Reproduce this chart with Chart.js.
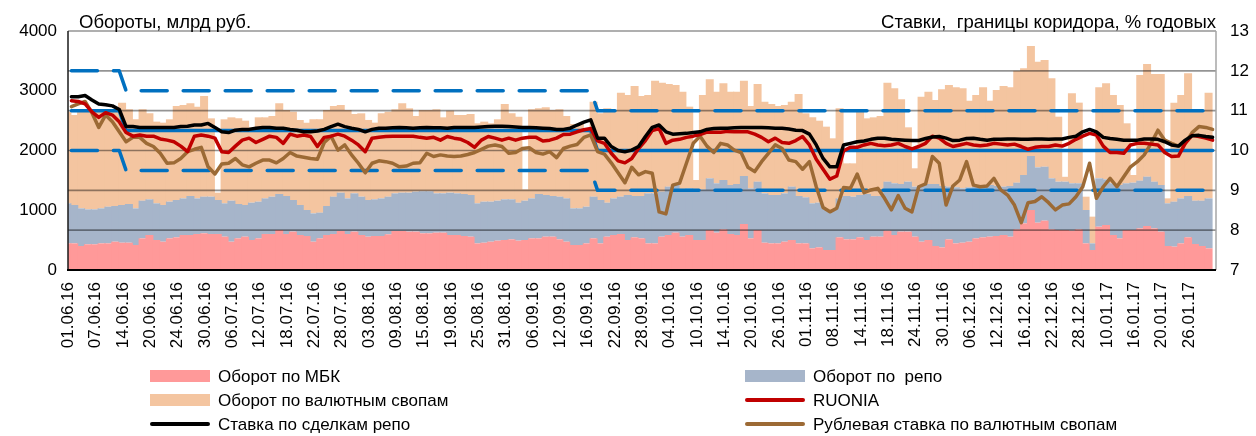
<!DOCTYPE html>
<html>
<head>
<meta charset="utf-8">
<script src="https://cdn.jsdelivr.net/npm/chart.js@4.4.1/dist/chart.umd.min.js"></script>
<style>
  html, body { margin: 0; padding: 0; background: #fff; }
</style>
</head>
<body>
<canvas id="turnover" width="1256" height="436"></canvas>
<script>
// tick labels: every 4th business day, 01.06.16 - 31.01.17 (168 days)
const tickLabels = ['01.06.16', '07.06.16', '14.06.16', '20.06.16', '24.06.16', '30.06.16', '06.07.16', '12.07.16',
  '18.07.16', '22.07.16', '28.07.16', '03.08.16', '09.08.16', '15.08.16', '19.08.16', '25.08.16', '31.08.16',
  '06.09.16', '12.09.16', '16.09.16', '22.09.16', '28.09.16', '04.10.16', '10.10.16', '14.10.16', '20.10.16',
  '26.10.16', '01.11.16', '08.11.16', '14.11.16', '18.11.16', '24.11.16', '30.11.16', '06.12.16', '12.12.16',
  '16.12.16', '22.12.16', '28.12.16', '10.01.17', '16.01.17', '20.01.17', '26.01.17'];

// оборот по МБК, млрд руб.
const mbk = [446, 446, 402, 430, 430, 446, 446, 474, 457, 457, 418, 530, 586, 502, 474, 530, 547, 586, 586, 603,
  614, 603, 603, 558, 474, 530, 558, 502, 530, 603, 603, 669, 603, 642, 586, 569, 474, 530, 586, 603,
  653, 603, 642, 586, 558, 569, 569, 597, 653, 653, 642, 642, 614, 614, 625, 625,
  586, 586, 569, 558, 446, 457, 474, 491, 502, 513, 491, 502, 530, 530, 558, 558, 513, 474, 418, 418,
  446, 530, 446, 558, 586, 603, 502, 547, 530, 446, 446, 558, 586, 625, 558, 586, 502, 502, 669, 625,
  681, 603, 586, 770, 530, 669, 457, 446, 446, 474, 502, 446, 446, 363, 379, 335, 335,
  547, 513, 513, 547, 502, 558, 558, 658, 586, 642, 642, 558, 474, 502, 402, 379, 513, 446, 457, 474,
  530, 547, 558, 569, 586, 558, 681, 781, 1004, 792, 826, 681, 669, 669, 658, 681, 446, 335, 725, 753,
  586, 530, 669, 669, 697, 736, 697, 642, 402, 391, 446, 547, 435, 402, 363];

// оборот по репо
const repo = [670, 642, 630, 585, 585, 586, 614, 597, 631, 648, 614, 630, 597, 614, 614, 614, 625, 613, 653, 596,
  613, 624, 569, 558, 686, 575, 530, 625, 614, 596, 624, 603, 636, 530, 502, 435, 474, 430, 485, 624,
  641, 596, 641, 641, 614, 614, 630, 630, 630, 641, 652, 669, 703, 703, 658, 658,
  708, 697, 703, 697, 670, 687, 670, 669, 681, 670, 636, 658, 669, 742, 697, 681, 714, 725, 614, 614,
  614, 697, 726, 569, 613, 624, 753, 692, 709, 837, 837, 753, 809, 798, 792, 781, 848, 848, 865, 826,
  825, 820, 853, 803, 837, 809, 826, 809, 809, 809, 893, 793, 770, 753, 748, 669, 669,
  652, 726, 714, 708, 770, 681, 681, 820, 865, 797, 836, 837, 949, 937, 1037, 1027, 882, 938, 910, 910,
  865, 820, 865, 837, 809, 848, 781, 809, 904, 926, 903, 853, 809, 809, 793, 770, 558, 111, 809, 764,
  865, 893, 782, 793, 798, 826, 781, 781, 714, 753, 753, 692, 725, 758, 836];

// оборот по валютным свопам
const swaps = [1534, 1506, 1618, 1663, 1663, 1646, 1618, 1607, 1713, 1584, 1490, 1529, 1439, 1367, 1378, 1378, 1573, 1563, 1551, 1535,
  1685, 1311, 122, 1406, 1395, 1433, 1411, 1261, 1411, 1356, 1350, 1518, 1439, 1478, 1423, 1462, 1574, 1562, 1607, 1518,
  1468, 1479, 1328, 1395, 1339, 1283, 1423, 1423, 1406, 1496, 1412, 1266, 1361, 1361, 1406, 1272,
  1373, 1311, 1322, 1356, 1339, 1339, 1311, 1362, 1595, 1439, 1439, 190, 1490, 1434, 1468, 1439, 1462, 1378, 1412, 1412,
  1311, 1590, 1450, 1579, 1479, 1741, 1674, 1841, 1673, 1646, 1886, 1824, 1718, 1673, 1635, 1367, 156, 1579, 1657, 1534,
  1618, 1562, 1546, 1596, 1378, 1635, 1534, 1523, 1490, 1479, 1422, 1707, 1406, 1439, 1372, 1395, 1200,
  1507, 546, 558, 1423, 1266, 1316, 1338, 1657, 1590, 1417, 910, 307, 1478, 1546, 1406, 1618, 1701, 1673, 1674, 1450,
  1534, 1690, 1411, 1607, 1685, 1651, 1874, 1785, 1841, 1769, 1786, 1674, 1088, 82, 1506, 1350, 223, 447, 1523, 1607,
  1478, 1339, 1004, 128, 1769, 1886, 1803, 1858, 83, 1657, 1730, 2053, 1518, 1518, 1769];

// RUONIA, % годовых
const ruonia = [11.25, 11.23, 11.17, 10.97, 10.83, 10.95, 10.89, 10.72, 10.45, 10.36, 10.39, 10.36, 10.36, 10.29, 10.26, 10.22, 10.11, 9.97, 10.36, 10.39,
  10.36, 10.31, 9.97, 9.95, 10.11, 10.26, 10.31, 10.20, 10.28, 10.36, 10.33, 10.18, 10.41, 10.36, 10.39, 10.35, 10.10, 10.33, 10.36, 10.41,
  10.36, 10.26, 10.14, 9.97, 10.31, 10.33, 10.35, 10.36, 10.36, 10.36, 10.36, 10.33, 10.31, 10.33, 10.26, 10.35,
  10.31, 10.28, 10.20, 10.08, 10.26, 10.35, 10.31, 10.26, 10.31, 10.26, 10.31, 10.33, 10.33, 10.24, 10.26, 10.31, 10.40, 10.41, 10.47, 10.52,
  10.55, 10.24, 10.18, 9.93, 9.74, 9.69, 9.80, 10.05, 10.25, 10.50, 10.55, 10.18, 10.26, 10.28, 10.33, 10.36, 10.40, 10.46, 10.46, 10.46,
  10.48, 10.47, 10.47, 10.47, 10.41, 10.33, 10.22, 10.31, 10.20, 10.18, 10.25, 10.35, 10.14, 9.78, 9.53, 9.28, 9.36,
  9.99, 10.08, 10.08, 10.14, 10.18, 10.14, 10.12, 10.14, 10.18, 10.10, 10.04, 10.10, 10.18, 10.36, 10.31, 10.18, 10.10, 10.14, 10.18, 10.14,
  10.12, 10.14, 10.18, 10.16, 10.14, 10.16, 10.10, 10.03, 10.08, 10.10, 10.10, 10.14, 10.11, 10.18, 10.28, 10.36, 10.43, 10.39, 10.11, 9.95,
  9.95, 9.93, 10.14, 10.18, 10.18, 10.16, 10.14, 9.95, 9.85, 9.86, 10.18, 10.38, 10.35, 10.31, 10.26];

// ставка по сделкам репо
const repoRate = [11.35, 11.35, 11.38, 11.27, 11.17, 11.15, 11.12, 11.03, 10.60, 10.60, 10.58, 10.58, 10.58, 10.58, 10.58, 10.58, 10.60, 10.61, 10.64, 10.64,
  10.68, 10.58, 10.47, 10.45, 10.51, 10.53, 10.53, 10.56, 10.58, 10.58, 10.56, 10.56, 10.53, 10.51, 10.47, 10.47, 10.49, 10.53, 10.60, 10.66,
  10.60, 10.56, 10.53, 10.47, 10.53, 10.56, 10.56, 10.57, 10.58, 10.57, 10.56, 10.57, 10.58, 10.57, 10.57, 10.56,
  10.58, 10.58, 10.58, 10.58, 10.59, 10.60, 10.61, 10.61, 10.60, 10.59, 10.58, 10.58, 10.57, 10.56, 10.55, 10.53, 10.53, 10.56, 10.64, 10.71,
  10.77, 10.31, 10.31, 10.10, 10.00, 9.97, 10.01, 10.10, 10.35, 10.58, 10.64, 10.47, 10.41, 10.42, 10.43, 10.45, 10.47, 10.53, 10.55, 10.56,
  10.56, 10.57, 10.58, 10.58, 10.58, 10.58, 10.57, 10.56, 10.56, 10.54, 10.51, 10.50, 10.41, 10.14, 9.80, 9.59, 9.59,
  10.14, 10.18, 10.22, 10.24, 10.28, 10.31, 10.31, 10.28, 10.27, 10.26, 10.25, 10.25, 10.30, 10.34, 10.35, 10.31, 10.25, 10.26, 10.30, 10.31,
  10.28, 10.26, 10.28, 10.28, 10.29, 10.29, 10.28, 10.28, 10.29, 10.29, 10.28, 10.29, 10.29, 10.33, 10.36, 10.47, 10.53, 10.47, 10.33, 10.30,
  10.28, 10.26, 10.26, 10.26, 10.29, 10.29, 10.28, 10.22, 10.14, 10.11, 10.26, 10.37, 10.38, 10.35, 10.33];

// рублевая ставка по валютным свопам
const swapRate = [11.10, 11.17, 11.23, 10.95, 10.58, 10.89, 10.72, 10.47, 10.22, 10.33, 10.33, 10.18, 10.10, 9.93, 9.68, 9.69, 9.80, 9.97, 10.03, 10.08,
  9.59, 9.41, 9.66, 9.68, 9.80, 9.64, 9.59, 9.68, 9.76, 9.76, 9.69, 9.80, 9.95, 9.86, 9.83, 9.80, 9.78, 10.20, 10.36, 10.01,
  10.14, 9.89, 9.68, 9.44, 9.68, 9.74, 9.72, 9.68, 9.59, 9.61, 9.68, 9.69, 9.93, 9.85, 9.89, 9.86,
  9.85, 9.86, 9.90, 9.95, 10.03, 10.11, 10.14, 10.10, 9.93, 9.95, 10.05, 10.07, 9.95, 9.91, 9.97, 9.82, 10.05, 10.11, 10.15, 10.33,
  10.39, 9.97, 9.91, 9.69, 9.44, 9.19, 9.58, 9.39, 9.47, 9.43, 8.46, 8.41, 9.13, 9.18, 9.68, 10.18, 10.36, 10.11, 9.95, 10.18,
  10.14, 10.01, 9.95, 9.58, 9.47, 9.72, 9.93, 10.14, 10.05, 9.76, 9.72, 9.53, 9.72, 9.09, 8.57, 8.46, 8.55,
  9.07, 9.05, 9.41, 8.94, 9.01, 9.05, 8.80, 8.51, 8.87, 8.55, 8.46, 9.09, 9.16, 9.85, 9.68, 8.63, 9.11, 9.26, 9.72, 9.13,
  9.09, 9.11, 9.30, 9.01, 8.88, 8.63, 8.19, 8.69, 8.72, 8.84, 8.69, 8.51, 8.63, 8.66, 8.84, 9.09, 9.68, 8.80, 9.09, 9.30,
  9.09, 9.34, 9.59, 9.72, 9.89, 10.18, 10.51, 10.26, 10.18, 10.11, 10.18, 10.45, 10.60, 10.58, 10.53];

// процентный коридор и ключевая ставка: [индекс дня, ставка]
const corridorUpper = [[0, 12], [7, 12], [8, 11.5], [76, 11.5], [77, 11], [167, 11]];
const keyRate = [[0, 11], [7, 11], [8, 10.5], [76, 10.5], [77, 10], [167, 10]];
const corridorLower = [[0, 10], [7, 10], [8, 9.5], [76, 9.5], [77, 9], [167, 9]];

const FONT = "'Liberation Sans', Arial, sans-serif";
const BLUE = '#0070C0';

const categories = mbk.map((v, i) => (i % 4 === 0 ? tickLabels[i / 4] : ''));
const toPoints = (pairs) => pairs.map(([x, y]) => ({ x, y }));

const legendItems = [
  { text: 'Оборот по МБК', color: '#FF9999', kind: 'box', col: 0, row: 0 },
  { text: 'Оборот по  репо', color: '#A6B5CA', kind: 'box', col: 1, row: 0 },
  { text: 'Оборот по валютным свопам', color: '#F4C5A0', kind: 'box', col: 0, row: 1 },
  { text: 'RUONIA', color: '#C00000', kind: 'line', col: 1, row: 1 },
  { text: 'Ставка по сделкам репо', color: '#000000', kind: 'line', col: 0, row: 2 },
  { text: 'Рублевая ставка по валютным свопам', color: '#9C6A35', kind: 'line', col: 1, row: 2 }
];

// горизонтальная сетка поверх столбцов, но под линиями
const gridOverBars = {
  id: 'gridOverBars',
  afterDatasetDraw(chart, args) {
    if (args.index !== 0) return;
    const { ctx, chartArea } = chart;
    const yr = chart.scales.y2;
    ctx.save();
    ctx.strokeStyle = 'rgba(0, 0, 0, 0.42)';
    ctx.lineWidth = 1.6;
    yr.ticks.forEach((t) => {
      if (t.value === 7) return;
      const py = yr.getPixelForValue(t.value);
      ctx.beginPath();
      ctx.moveTo(chartArea.left, py);
      ctx.lineTo(chartArea.right, py);
      ctx.stroke();
    });
    // рамка
    ctx.strokeStyle = '#a6a6a6';
    ctx.lineWidth = 1.5;
    ctx.beginPath();
    ctx.moveTo(chartArea.right, chartArea.top);
    ctx.lineTo(chartArea.right, chartArea.bottom);
    ctx.stroke();
    ctx.strokeStyle = '#1a1a1a';
    ctx.lineWidth = 1.5;
    ctx.beginPath();
    ctx.moveTo(chartArea.left, chartArea.top);
    ctx.lineTo(chartArea.left, chartArea.bottom);
    ctx.stroke();
    ctx.strokeStyle = '#000';
    ctx.lineWidth = 2;
    ctx.beginPath();
    ctx.moveTo(chartArea.left - 1, chartArea.bottom);
    ctx.lineTo(chartArea.right, chartArea.bottom);
    ctx.stroke();
    ctx.restore();
  }
};

const titlesAndLegend = {
  id: 'titlesAndLegend',
  afterDraw(chart) {
    const { ctx, chartArea } = chart;
    ctx.save();
    ctx.fillStyle = '#000';
    ctx.font = '18.5px ' + FONT;
    ctx.textBaseline = 'alphabetic';
    ctx.textAlign = 'left';
    ctx.fillText('Обороты, млрд руб.', 79, 28);
    ctx.textAlign = 'right';
    ctx.fillText('Ставки,  границы коридора, % годовых', chartArea.right, 28);

    const colX = [150, 745];
    const rowY = [376, 400, 424];
    ctx.font = '17px ' + FONT;
    ctx.textAlign = 'left';
    ctx.textBaseline = 'middle';
    legendItems.forEach((it) => {
      const x = colX[it.col];
      const y = rowY[it.row];
      if (it.kind === 'box') {
        ctx.fillStyle = it.color;
        ctx.fillRect(x, y - 6, 60, 12);
      } else {
        ctx.strokeStyle = it.color;
        ctx.lineWidth = 4;
        ctx.lineCap = 'round';
        ctx.beginPath();
        ctx.moveTo(x + 2, y);
        ctx.lineTo(x + 58, y);
        ctx.stroke();
      }
      ctx.fillStyle = '#000';
      ctx.fillText(it.text, x + 68, y + 1);
    });
    ctx.restore();
  }
};

const lineStyle = {
  type: 'line',
  yAxisID: 'y2',
  borderWidth: 3.5,
  pointRadius: 0,
  pointHoverRadius: 0,
  tension: 0,
  fill: false,
  borderJoinStyle: 'round',
  borderCapStyle: 'round'
};

const barStyle = {
  type: 'bar',
  yAxisID: 'y',
  stack: 'turnover',
  barThickness: 8,
  borderWidth: 0,
  inflateAmount: 0,
  order: 10
};

const config = {
  data: {
    labels: categories,
    datasets: [
      { ...barStyle, label: 'Оборот по МБК', data: mbk, backgroundColor: '#FF9999' },
      { ...barStyle, label: 'Оборот по  репо', data: repo, backgroundColor: '#A6B5CA' },
      { ...barStyle, label: 'Оборот по валютным свопам', data: swaps, backgroundColor: '#F4C5A0' },
      { ...lineStyle, label: 'Верхняя граница', xAxisID: 'xl', data: toPoints(corridorUpper),
        borderColor: BLUE, borderDash: [26, 16], order: 6 },
      { ...lineStyle, label: 'Нижняя граница', xAxisID: 'xl', data: toPoints(corridorLower),
        borderColor: BLUE, borderDash: [26, 16], order: 6 },
      { ...lineStyle, label: 'Ключевая ставка', xAxisID: 'xl', data: toPoints(keyRate),
        borderColor: BLUE, order: 5 },
      { ...lineStyle, label: 'Рублевая ставка по валютным свопам', data: swapRate, borderColor: '#9C6A35', order: 4 },
      { ...lineStyle, label: 'RUONIA', data: ruonia, borderColor: '#C00000', order: 3 },
      { ...lineStyle, label: 'Ставка по сделкам репо', data: repoRate, borderColor: '#000000', order: 2 }
    ]
  },
  options: {
    responsive: false,
    animation: false,
    devicePixelRatio: 1,
    layout: { padding: { top: 31, left: 0, right: 0, bottom: 0 } },
    scales: {
      x: {
        type: 'category',
        offset: true,
        stacked: true,
        grid: { display: false, drawTicks: false },
        border: { display: false },
        ticks: {
          autoSkip: false,
          minRotation: 90,
          maxRotation: 90,
          padding: 12,
          labelOffset: -3,
          color: '#000',
          font: { family: FONT, size: 17 }
        },
        afterFit: (s) => { s.height = 166; }
      },
      xl: {
        type: 'linear',
        display: false,
        min: -0.5,
        max: 167.5
      },
      y: {
        position: 'left',
        stacked: true,
        min: 0,
        max: 4000,
        grid: { display: false, drawTicks: false },
        border: { display: false },
        ticks: {
          stepSize: 1000,
          padding: 11,
          color: '#000',
          font: { family: FONT, size: 17 },
          callback: (value) => String(value)
        },
        afterFit: (s) => { s.width = 68; }
      },
      y2: {
        position: 'right',
        min: 7,
        max: 13,
        grid: { display: false, drawTicks: false },
        border: { display: false },
        ticks: {
          stepSize: 1,
          padding: 14,
          color: '#000',
          font: { family: FONT, size: 17 }
        },
        afterFit: (s) => { s.width = 40; }
      }
    },
    plugins: {
      legend: { display: false },
      tooltip: { enabled: false }
    }
  },
  plugins: [gridOverBars, titlesAndLegend]
};

const ctx = document.getElementById('turnover').getContext('2d');
new Chart(ctx, config);
</script>
</body>
</html>
